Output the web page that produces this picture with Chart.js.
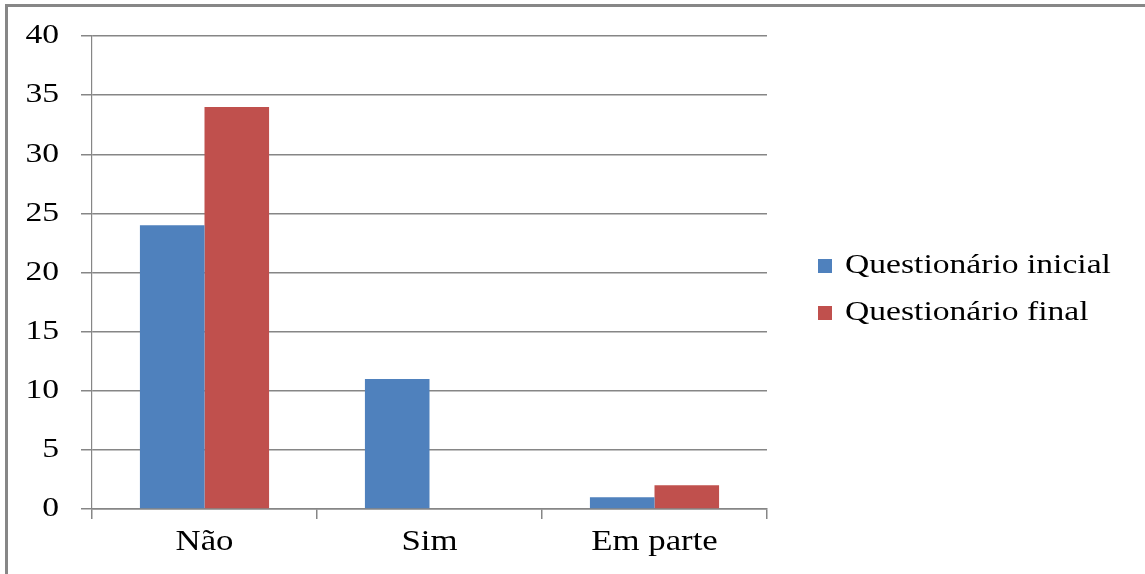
<!DOCTYPE html>
<html>
<head>
<meta charset="utf-8">
<script src="https://cdn.jsdelivr.net/npm/chart.js@4/dist/chart.umd.min.js"></script>
<style>
  html, body { margin: 0; padding: 0; background: #fff; }
  #wrap { position: relative; width: 1145px; height: 574px; overflow: hidden; }
  #frame { position: absolute; left: 5px; top: 4px; width: 1200px; height: 600px;
           border-top: 3px solid #878787; border-left: 3px solid #878787; box-sizing: border-box; }
  canvas { position: absolute; left: 0; top: 0; }
</style>
</head>
<body>
<div id="wrap">
  <div id="frame"></div>
  <canvas id="c" width="1145" height="574"></canvas>
</div>
<script>
const categories = ['Não', 'Sim', 'Em parte'];
const seriesNames = ['Questionário inicial', 'Questionário final'];
const inicial = [24, 11, 1];
const finalVals = [34, 0, 2];
const yTicks = { min: 0, max: 40, step: 5 };

const FONT = '"Liberation Serif", "Times New Roman", serif';
const GRID = '#868686';
const TEXT_STRETCH = 1.2; // reference text is horizontally stretched

const stretchText = {
  id: 'stretchText',
  beforeDraw(chart) {
    const ctx = chart.ctx;
    if (ctx.__stretched) return;
    const orig = ctx.fillText;
    ctx.fillText = function (t, x, y) {
      this.save();
      this.translate(x, y);
      this.scale(TEXT_STRETCH, 1);
      orig.call(this, t, 0, 0);
      this.restore();
    };
    ctx.__stretched = true;
  }
};

const customLegend = {
  id: 'customLegend',
  afterDraw(chart) {
    const ctx = chart.ctx;
    ctx.save();
    ctx.font = '28px ' + FONT;
    ctx.textBaseline = 'middle';
    ctx.textAlign = 'left';
    chart.data.datasets.forEach((ds, i) => {
      const y = 266 + i * 47;
      ctx.fillStyle = ds.backgroundColor;
      ctx.fillRect(818, y - 7, 14, 14);
      ctx.fillStyle = '#000';
      ctx.fillText(ds.label, 845, y);
    });
    ctx.restore();
  }
};

new Chart(document.getElementById('c'), {
  type: 'bar',
  data: {
    labels: categories,
    datasets: [
      { label: seriesNames[0], data: inicial, backgroundColor: '#4f81bd' },
      { label: seriesNames[1], data: finalVals, backgroundColor: '#c0504d' }
    ]
  },
  options: {
    responsive: false,
    animation: false,
    events: [],
    layout: { padding: { top: 34, right: 378, left: 0, bottom: 0 } },
    datasets: { bar: { categoryPercentage: 0.574, barPercentage: 1.0 } },
    plugins: { legend: { display: false }, tooltip: { enabled: false } },
    scales: {
      x: {
        grid: { offset: true, drawOnChartArea: false, drawTicks: true, tickLength: 10, color: GRID, lineWidth: 1.5 },
        border: { display: true, color: GRID, width: 1.5 },
        ticks: { color: '#000', font: { family: FONT, size: 29 }, padding: 6 },
        afterFit(scale) { scale.height = 65; }
      },
      y: {
        min: yTicks.min, max: yTicks.max,
        grid: { color: GRID, lineWidth: 1.5, tickLength: 11, drawTicks: true },
        border: { display: true, color: GRID, width: 1.2 },
        ticks: { stepSize: yTicks.step, color: '#000', font: { family: FONT, size: 28, lineHeight: 1.0 }, padding: 22 },
        afterFit(scale) { scale.width = 92; }
      }
    }
  },
  plugins: [stretchText, customLegend]
});
</script>
</body>
</html>
